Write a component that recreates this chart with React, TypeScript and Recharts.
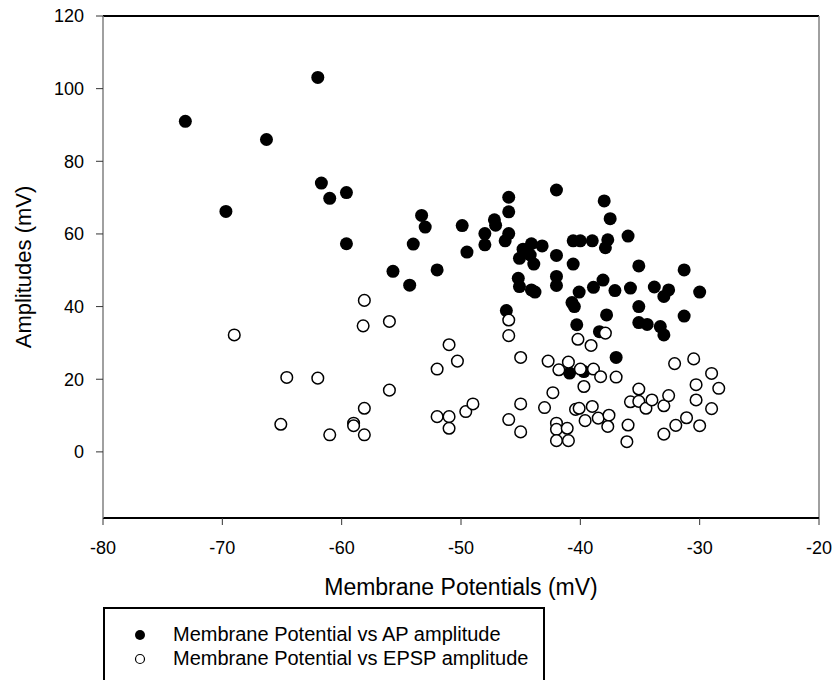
import { ScatterChart, Scatter, XAxis, YAxis, ReferenceLine, Legend } from 'recharts';

// Membrane potential (mV) vs AP amplitude (mV)
const apVoltage = [
    -73.1, -69.7, -66.3, -62.0, -61.7, -61.0, -59.6, -59.6, -55.7, -54.3,
    -54.0, -53.3, -53.0, -52.0, -49.9, -49.5, -48.0, -48.0, -47.2, -47.1,
    -46.0, -46.0, -46.0, -46.3, -46.2, -45.2, -45.1, -44.8, -44.1, -43.2,
    -44.2, -43.9, -45.1, -44.1, -43.8, -42.0, -42.0, -42.0, -42.0, -40.6,
    -40.0, -39.0, -40.6, -40.1, -40.7, -40.5, -40.3, -40.9, -39.7, -38.0,
    -37.5, -37.7, -37.9, -36.0, -35.1, -31.3, -38.9, -38.1, -37.1, -35.8,
    -33.8, -33.0, -32.6, -30.0, -35.1, -37.8, -31.3, -35.1, -34.4, -33.3,
    -33.0, -38.4, -37.0,
];
const apAmplitude = [
    91.0, 66.2, 86.0, 103.1, 74.0, 69.8, 71.4, 57.3, 49.7, 45.9,
    57.2, 65.1, 61.9, 50.1, 62.3, 55.0, 60.1, 57.0, 63.9, 62.4,
    70.1, 66.1, 60.1, 58.1, 38.9, 47.8, 45.5, 55.8, 57.3, 56.7,
    54.2, 51.7, 53.3, 44.6, 44.0, 72.1, 54.1, 48.3, 45.8, 58.1,
    58.1, 58.1, 51.7, 44.0, 41.1, 40.0, 35.0, 21.7, 22.1, 69.1,
    64.2, 58.4, 56.2, 59.4, 51.2, 50.1, 45.3, 47.3, 44.4, 45.1,
    45.4, 42.8, 44.6, 44.0, 40.0, 37.7, 37.4, 35.6, 35.1, 34.5,
    32.2, 33.1, 26.0,
];

// Membrane potential (mV) vs EPSP amplitude (mV)
const epspVoltage = [
    -69.0, -58.1, -58.2, -56.0, -64.6, -62.0, -65.1, -61.0, -59.0, -59.0,
    -58.1, -58.1, -56.0, -51.0, -50.3, -52.0, -52.0, -51.0, -51.0, -49.6,
    -49.0, -46.0, -46.0, -45.0, -45.0, -46.0, -45.0, -42.7, -41.8, -41.0,
    -40.0, -40.2, -39.1, -37.9, -39.7, -42.3, -43.0, -40.4, -40.1, -39.6,
    -42.0, -42.0, -41.1, -42.0, -41.0, -38.9, -38.3, -37.0, -32.1, -30.5,
    -29.0, -28.4, -30.3, -30.3, -29.0, -30.0, -31.1, -32.0, -33.0, -35.1,
    -35.8, -35.1, -34.5, -34.0, -33.0, -32.6, -36.0, -36.1, -39.0, -38.5,
    -37.6, -37.7,
];
const epspAmplitude = [
    32.2, 41.7, 34.7, 35.9, 20.5, 20.3, 7.6, 4.7, 7.9, 7.2,
    12.0, 4.7, 17.0, 29.5, 25.0, 22.8, 9.7, 9.7, 6.5, 11.1,
    13.2, 36.3, 32.0, 26.0, 13.2, 8.9, 5.5, 25.0, 22.6, 24.7,
    22.8, 31.0, 29.3, 32.7, 18.0, 16.3, 12.2, 11.7, 12.0, 8.6,
    7.9, 6.2, 6.5, 3.1, 3.1, 22.8, 20.7, 20.6, 24.3, 25.6,
    21.6, 17.5, 18.5, 14.3, 11.9, 7.2, 9.4, 7.3, 4.9, 17.3,
    13.8, 13.9, 12.0, 14.3, 12.7, 15.5, 7.4, 2.8, 12.5, 9.3,
    10.1, 7.0,
];

const xTicks = [-80, -70, -60, -50, -40, -30, -20];
const yTicks = [0, 20, 40, 60, 80, 100, 120];

const apData = apVoltage.map((x, i) => ({ x, y: apAmplitude[i] }));
const epspData = epspVoltage.map((x, i) => ({ x, y: epspAmplitude[i] }));

const font = '"Liberation Sans", Arial, sans-serif';

const FilledDot = (props: any) => <circle cx={props.cx} cy={props.cy} r={6.5} fill="#000" />;
const OpenDot = (props: any) => (
    <circle cx={props.cx} cy={props.cy} r={5.8} fill="#fff" stroke="#000" strokeWidth={1.5} />
);

const LegendBox = () => (
    <div style={{
        boxSizing: 'border-box', width: 442, height: 73, position: 'relative',
        borderTop: '2px solid #000', borderLeft: '2px solid #000', borderRight: '2px solid #000',
        fontFamily: font, fontSize: 20, color: '#000', background: '#fff',
    }}>
        <svg width={14} height={14} style={{ position: 'absolute', left: 28, top: 19 }}>
            <circle cx={7} cy={7} r={5} fill="#000" />
        </svg>
        <div style={{ position: 'absolute', left: 68, top: 14, lineHeight: '22px', whiteSpace: 'nowrap' }}>
            Membrane Potential vs AP amplitude
        </div>
        <svg width={14} height={14} style={{ position: 'absolute', left: 28, top: 43 }}>
            <circle cx={7} cy={7} r={4.5} fill="#fff" stroke="#000" strokeWidth={1.2} />
        </svg>
        <div style={{ position: 'absolute', left: 68, top: 38, lineHeight: '22px', whiteSpace: 'nowrap' }}>
            Membrane Potential vs EPSP amplitude
        </div>
    </div>
);

export default function App() {
    return (
        <div style={{ position: 'absolute', left: 0, top: 0, width: 836, height: 680, background: '#fff' }}>
            <ScatterChart width={836} height={680} margin={{ top: 16, right: 17, bottom: 0, left: 0 }}>
                <XAxis
                    type="number"
                    dataKey="x"
                    domain={[-80, -20]}
                    ticks={xTicks}
                    height={162}
                    tickSize={7}
                    tickMargin={16}
                    axisLine={{ stroke: '#000', strokeWidth: 2 }}
                    tickLine={{ stroke: '#333' }}
                    tick={{ fill: '#000', fontSize: 18, fontFamily: font }}
                    label={{ value: 'Membrane Potentials (mV)', position: 'insideTop', offset: 61, fill: '#000', fontSize: 23, fontFamily: font }}
                />
                <YAxis
                    type="number"
                    dataKey="y"
                    domain={[-18.2, 120]}
                    ticks={yTicks}
                    width={103}
                    tickSize={7}
                    tickMargin={12}
                    axisLine={{ stroke: '#808080', strokeWidth: 1.5 }}
                    tickLine={{ stroke: '#333' }}
                    tick={{ fill: '#000', fontSize: 18, fontFamily: font }}
                    label={{ value: 'Amplitudes (mV)', angle: -90, position: 'insideLeft', offset: 23, fill: '#000', fontSize: 22, fontFamily: font, style: { textAnchor: 'middle' } }}
                />
                <ReferenceLine y={120} stroke="#000" strokeWidth={2} />
                <ReferenceLine x={-20} stroke="#808080" strokeWidth={1.5} />
                <Scatter name="Membrane Potential vs AP amplitude" data={apData} shape={FilledDot} isAnimationActive={false} />
                <Scatter name="Membrane Potential vs EPSP amplitude" data={epspData} shape={OpenDot} isAnimationActive={false} />
                <Legend
                    layout="vertical"
                    align="center"
                    verticalAlign="middle"
                    wrapperStyle={{ left: 103, top: 607, width: 442, height: 73 }}
                    content={() => <LegendBox />}
                />
            </ScatterChart>
        </div>
    );
}
